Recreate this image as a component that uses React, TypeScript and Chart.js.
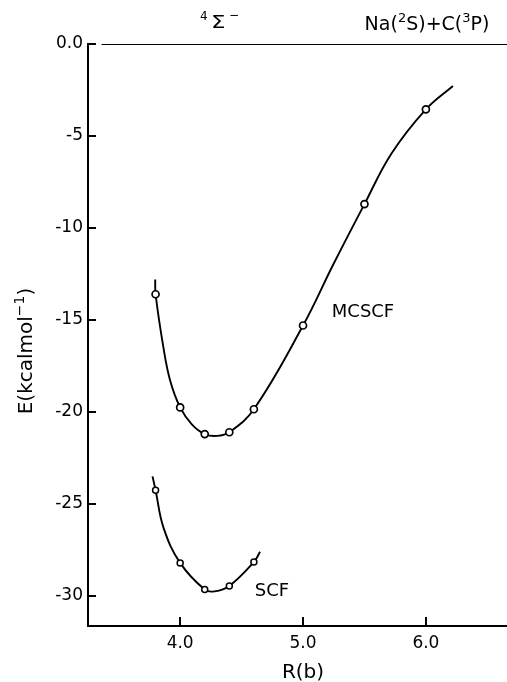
import React, { useEffect, useRef } from "react";
import { Chart, registerables } from "chart.js";
Chart.register(...registerables);

// ---- data ----
const xTicks = [4.0, 5.0, 6.0];
const yTicks = [0, -5, -10, -15, -20, -25, -30];

// computed points (circles)
const mcscfR = [3.8, 4.0, 4.2, 4.4, 4.6, 5.0, 5.5, 6.0];
const mcscfE = [-13.6, -19.75, -21.2, -21.1, -19.85, -15.3, -8.7, -3.55];
const scfR = [3.8, 4.0, 4.2, 4.4, 4.6];
const scfE = [-24.25, -28.2, -29.65, -29.45, -28.15];

// points (including their ends)
const mcscfCurveR = [3.797, 3.8, 3.864, 3.919, 4.0, 4.095, 4.2, 4.3, 4.4, 4.6, 5.0, 5.247, 5.5, 5.72, 6.0, 6.22];
const mcscfCurveE = [-12.8, -13.6, -16.5, -18.3, -19.75, -20.67, -21.2, -21.3, -21.1, -19.85, -15.3, -11.97, -8.7, -5.95, -3.55, -2.28];
const scfCurveR = [3.775, 3.8, 3.865, 4.0, 4.2, 4.28, 4.4, 4.6, 4.65];
const scfCurveE = [-23.5, -24.25, -26.3, -28.2, -29.65, -29.75, -29.45, -28.15, -27.6];

// dissociation limit line
const limitR = [3.36, 6.7];
const limitE = [0, 0];

const FONT = "'DejaVu Sans', 'Liberation Sans', sans-serif";

const toXY = (xs: number[], ys: number[]) => xs.map((x, i) => ({ x, y: ys[i] }));

type Seg = { t: string; sup?: boolean };

function drawRich(ctx: CanvasRenderingContext2D, segs: Seg[], cx: number, cy: number, size: number) {
  const supSize = Math.round(size * 0.68);
  const widths = segs.map((s) => {
    ctx.font = `${s.sup ? supSize : size}px ${FONT}`;
    return ctx.measureText(s.t).width;
  });
  const total = widths.reduce((a, b) => a + b, 0);
  let x = cx - total / 2;
  ctx.textAlign = "left";
  ctx.textBaseline = "alphabetic";
  const base = cy + size * 0.36;
  segs.forEach((s, i) => {
    ctx.font = `${s.sup ? supSize : size}px ${FONT}`;
    ctx.fillText(s.t, x, s.sup ? base - size * 0.42 : base);
    x += widths[i];
  });
}

const textPlugin = {
  id: "annot",
  afterDraw(chart: any) {
    const { ctx, scales, chartArea } = chart;
    const xs = scales.x;
    const ys = scales.y;
    ctx.save();
    // inward ticks
    ctx.strokeStyle = "#000";
    ctx.lineWidth = 2;
    xTicks.forEach((v) => {
      const px = Math.round(xs.getPixelForValue(v));
      ctx.beginPath();
      ctx.moveTo(px, chartArea.bottom);
      ctx.lineTo(px, chartArea.bottom - 9);
      ctx.stroke();
    });
    yTicks.forEach((v) => {
      const py = Math.round(ys.getPixelForValue(v));
      ctx.beginPath();
      ctx.moveTo(chartArea.left, py);
      ctx.lineTo(chartArea.left + 8, py);
      ctx.stroke();
    });

    ctx.fillStyle = "#000";
    // state label  4Σ−
    ctx.textAlign = "left";
    ctx.textBaseline = "alphabetic";
    ctx.font = `12px ${FONT}`;
    ctx.fillText("4", 200, 20);
    ctx.fillText("−", 229, 19);
    ctx.save();
    ctx.translate(211, 28);
    ctx.scale(1.35, 1);
    ctx.font = `17px ${FONT}`;
    ctx.fillText("Σ", 0, 0);
    ctx.restore();

    drawRich(
      ctx,
      [{ t: "Na(" }, { t: "2", sup: true }, { t: "S)+C(" }, { t: "3", sup: true }, { t: "P)" }],
      427,
      23,
      19
    );
    ctx.textAlign = "center";
    ctx.textBaseline = "middle";
    ctx.font = `18px ${FONT}`;
    ctx.fillText("MCSCF", 363, 312);
    ctx.fillText("SCF", 272, 591);
    ctx.font = `20px ${FONT}`;
    ctx.fillText("R(b)", 303, 673);
    ctx.translate(25, 351);
    ctx.rotate(-Math.PI / 2);
    drawRich(ctx, [{ t: "E(kcalmol" }, { t: "−1", sup: true }, { t: ")" }], 0, 0, 20);
    ctx.restore();
  },
};

export default function App() {
  const ref = useRef<HTMLCanvasElement | null>(null);
  useEffect(() => {
    document.body.style.margin = "0";
    const canvas = ref.current!;
    const chart = new Chart(canvas, {
      type: "scatter",
      data: {
        datasets: [
          {
            label: "MCSCF points",
            data: toXY(mcscfR, mcscfE),
            showLine: false,
            pointRadius: 3.5,
            pointBackgroundColor: "#fff",
            pointBorderColor: "#000",
            pointBorderWidth: 1.7,
            order: 0,
          },
          {
            label: "SCF points",
            data: toXY(scfR, scfE),
            showLine: false,
            pointRadius: 3,
            pointBackgroundColor: "#fff",
            pointBorderColor: "#000",
            pointBorderWidth: 1.5,
            order: 0,
          },
          {
            label: "MCSCF",
            data: toXY(mcscfCurveR, mcscfCurveE),
            showLine: true,
            pointRadius: 0,
            borderColor: "#000",
            borderWidth: 1.9,
            tension: 0.4,
            order: 1,
          },
          {
            label: "SCF",
            data: toXY(scfCurveR, scfCurveE),
            showLine: true,
            pointRadius: 0,
            borderColor: "#000",
            borderWidth: 1.9,
            tension: 0.4,
            order: 1,
          },
          {
            label: "limit",
            data: toXY(limitR, limitE),
            showLine: true,
            pointRadius: 0,
            borderColor: "#000",
            borderWidth: 2,
            order: 2,
          },
        ],
      },
      options: {
        responsive: false,
        animation: false,
        devicePixelRatio: 1,
        layout: { autoPadding: false, padding: { top: 44, right: 0, left: 0, bottom: 0 } },
        plugins: { legend: { display: false }, tooltip: { enabled: false } },
        scales: {
          x: {
            type: "linear",
            min: 3.25,
            max: 6.66,
            afterBuildTicks: (s: any) => {
              s.ticks = xTicks.map((v) => ({ value: v }));
            },
            afterFit: (s: any) => {
              s.height = 56;
              s.paddingLeft = 0;
              s.paddingRight = 0;
            },
            grid: { display: false, drawTicks: false },
            border: { display: true, color: "#000", width: 2 },
            ticks: {
              color: "#000",
              font: { family: FONT, size: 17 },
              padding: 7,
              maxRotation: 0,
              callback: (v: any) => Number(v).toFixed(1),
            },
          },
          y: {
            type: "linear",
            min: -31.63,
            max: 0,
            afterBuildTicks: (s: any) => {
              s.ticks = yTicks.map((v) => ({ value: v }));
            },
            afterFit: (s: any) => {
              s.width = 88;
              s.paddingTop = 0;
              s.paddingBottom = 0;
            },
            grid: { display: false, drawTicks: false },
            border: { display: true, color: "#000", width: 2 },
            ticks: {
              color: "#000",
              font: { family: FONT, size: 17 },
              padding: 5,
              callback: (v: any) => (Number(v) === 0 ? "0.0" : String(v)),
            },
          },
        },
      },
      plugins: [textPlugin],
    });
    return () => chart.destroy();
  }, []);
  return (
    <div style={{ position: "fixed", left: 0, top: 0, width: 507, height: 682, background: "#fff" }}>
      <canvas ref={ref} width={507} height={682} style={{ width: 507, height: 682, display: "block" }} />
    </div>
  );
}
